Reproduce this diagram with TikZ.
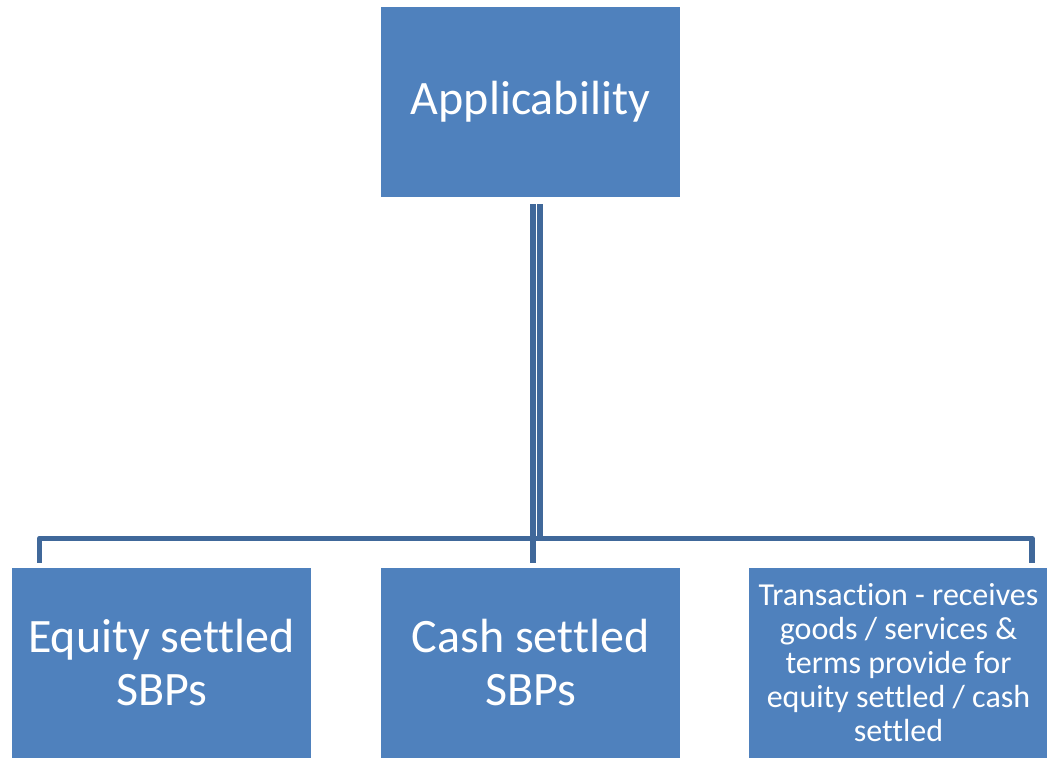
\documentclass[tikz,border=0pt]{standalone}
\usepackage{fontspec}
\setmainfont[RawFeature={-liga;-clig;-calt;-dlig}]{Carlito}
\definecolor{boxblue}{RGB}{79,129,189}
\definecolor{linkblue}{RGB}{64,104,154}
\begin{document}
\begin{tikzpicture}[x=1pt,y=-1pt,
  box/.style={rectangle,fill=boxblue,draw=none,minimum width=299pt,minimum height=190pt,
    inner sep=0pt,text=white,align=center,font=\fontsize{48}{53}\selectfont},
  smallbox/.style={box,font=\fontsize{32}{34}\selectfont},
  conn/.style={draw=linkblue,line width=5.5pt,line join=round}]
\useasboundingbox (0,0) rectangle (1047,758);
% boxes
\node[box] (top) at (530.5,102) {Applicability};
\node[box] (eq) at (161.5,663) {Equity settled\\SBPs};
\node[box] (cash) at (530.5,663) {Cash settled\\SBPs};
\node[smallbox] (trans) at (898.5,663) {Transaction - receives\\goods / services \&\\terms provide for\\equity settled / cash\\settled};
% horizontal bus and drops
\coordinate (busL) at ([xshift=-122pt,yshift=29.5pt]eq.north);
\coordinate (busR) at ([xshift=133.5pt,yshift=29.5pt]trans.north);
\draw[conn] ([xshift=-122pt,yshift=5pt]eq.north) -- (busL) -- (busR) -- ([xshift=133.5pt,yshift=5pt]trans.north);
% doubled trunk from the top box
\draw[conn,line width=6pt] ([xshift=2.5pt,yshift=-7pt]top.south) -- ([xshift=2.5pt,yshift=5pt]cash.north);
\draw[conn,line width=5.5pt] ([xshift=9.5pt,yshift=-7pt]top.south) -- ([xshift=9.5pt,yshift=28pt]cash.north);
\end{tikzpicture}
\end{document}
